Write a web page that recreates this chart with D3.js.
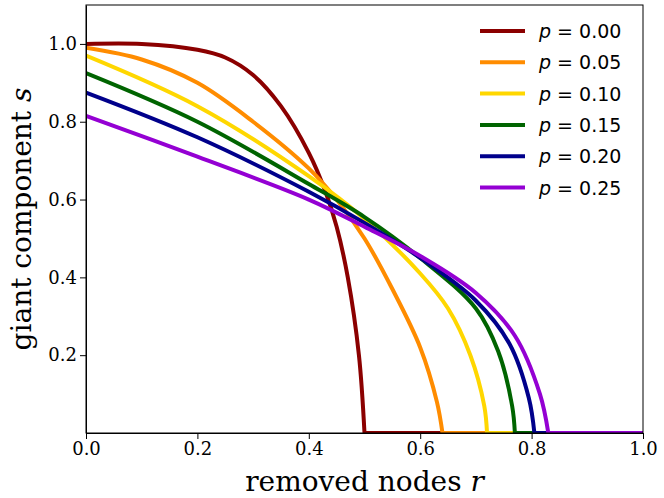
<!DOCTYPE html>
<html><head><meta charset="utf-8">
<script src="https://cdn.jsdelivr.net/npm/d3@7"></script>
<style>body{margin:0;background:#fff}</style></head>
<body><div id="chart"></div>
<script>
const pLabels = ["0.00","0.05","0.10","0.15","0.20","0.25"]
const colors = ["#8b0000","#ff8c00","#ffd700","#006400","#00008b","#9400d3"]
// curve points up to where s hits 0 (flat zero to r=1 afterwards)
const rVals = [
  [0,0.1,0.2,0.25,0.3,0.35,0.4,0.43,0.45,0.47,0.49,0.5],
  [0,0.1,0.2,0.3,0.4,0.45,0.5,0.55,0.6,0.63,0.64],
  [0,0.2,0.4,0.5,0.6,0.65,0.69,0.715,0.72],
  [0,0.2,0.4,0.5,0.6,0.7,0.74,0.765,0.77],
  [0,0.2,0.4,0.5,0.6,0.7,0.76,0.795,0.805],
  [0,0.2,0.4,0.5,0.6,0.7,0.77,0.815,0.83]
]
const sVals = [
  [1.0,1.0,0.985,0.965,0.92,0.84,0.72,0.62,0.53,0.4,0.2,0],
  [0.99,0.96,0.9,0.8,0.68,0.6,0.5,0.37,0.22,0.08,0],
  [0.97,0.84,0.66,0.55,0.41,0.32,0.2,0.07,0],
  [0.925,0.8,0.64,0.555,0.45,0.32,0.21,0.07,0],
  [0.875,0.76,0.62,0.54,0.45,0.34,0.23,0.09,0],
  [0.815,0.71,0.6,0.53,0.455,0.36,0.25,0.1,0]
]
const xTicks = [0,0.2,0.4,0.6,0.8,1.0]
const yTicks = [0.2,0.4,0.6,0.8,1.0]

var margin = {top: 5, right: 21, bottom: 65, left: 86}
var width = 664 - margin.left - margin.right,
    height = 498 - margin.top - margin.bottom

var svg = d3.select("#chart").append("svg")
  .attr("width", 664).attr("height", 498)
  .append("g")
  .attr("transform", "translate(" + margin.left + "," + margin.top + ")")

const x = d3.scaleLinear().domain([0,1]).range([0, width])
const y = d3.scaleLinear().domain([0,1.1]).range([height, 0])

const line = d3.line().x(d => x(d[0])).y(d => y(d[1])).curve(d3.curveCatmullRom.alpha(0.5))
const flat = d3.line().x(d => x(d[0])).y(d => y(d[1]))

svg.append("defs").append("clipPath").attr("id","clip")
  .append("rect").attr("width", width).attr("height", height)

sVals.forEach((s, i) => {
  const r = rVals[i]
  svg.append("path")
    .attr("clip-path","url(#clip)")
    .datum([[r[r.length-1], 0], [1, 0]])
    .attr("d", flat)
    .attr("fill","none").attr("stroke", colors[i]).attr("stroke-width", 4)
  svg.append("path")
    .attr("clip-path","url(#clip)")
    .datum(r.map((v, j) => [v, s[j]]))
    .attr("d", line)
    .attr("fill","none").attr("stroke", colors[i]).attr("stroke-width", 4)
})

svg.append("g").attr("transform","translate(0," + height + ")")
  .call(d3.axisBottom(x).tickValues(xTicks).tickFormat(d3.format(".1f")).tickSizeOuter(0))
  .call(g => g.selectAll("text").attr("font-family","DejaVu Serif").attr("font-size",18).attr("fill","#000"))
svg.append("g")
  .call(d3.axisLeft(y).tickValues(yTicks).tickFormat(d3.format(".1f")).tickSizeOuter(0))
  .call(g => g.selectAll("text").attr("font-family","DejaVu Serif").attr("font-size",18).attr("fill","#000"))
svg.append("rect").attr("width", width).attr("height", height)
  .attr("fill","none").attr("stroke","#000").attr("stroke-width",1)

svg.append("text").attr("x", width/2).attr("y", height + 58)
  .attr("text-anchor","middle").attr("font-family","DejaVu Serif").attr("font-size",28)
  .html('removed nodes <tspan font-style="italic">r</tspan>')
svg.append("text").attr("transform","translate(-55," + (height/2) + ") rotate(-90)")
  .attr("text-anchor","middle").attr("font-family","DejaVu Serif").attr("font-size",28)
  .html('giant component <tspan font-style="italic">s</tspan>')

const leg = svg.append("g").attr("transform","translate(394,26)")
pLabels.forEach((p, i) => {
  const g = leg.append("g").attr("transform","translate(0," + i*31.3 + ")")
  g.append("line").attr("x1",0).attr("x2",45).attr("stroke",colors[i]).attr("stroke-width",4)
  g.append("text").attr("x",59).attr("y",7).attr("font-family","DejaVu Sans").attr("font-size",19)
    .html('<tspan font-style="italic">p</tspan> = ' + p)
})
</script></body></html>
